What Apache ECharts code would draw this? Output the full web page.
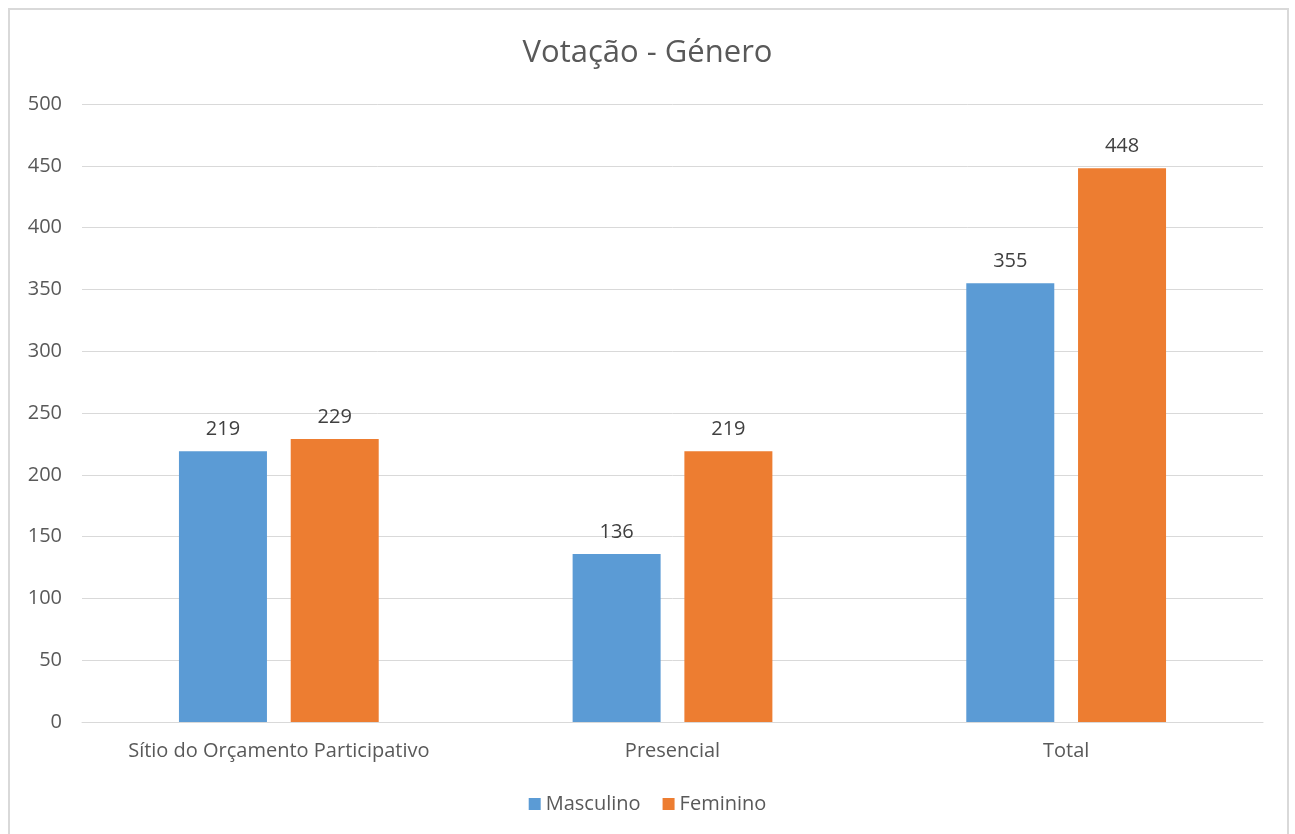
<!DOCTYPE html>
<html><head><meta charset="utf-8">
<script src="https://cdn.jsdelivr.net/npm/echarts@6/dist/echarts.min.js"></script>
<style>html,body{margin:0;padding:0;background:#fff}#c{width:1295px;height:834px}</style>
</head><body><div id="c"></div>
<script>
const categories = ['Sítio do Orçamento Participativo', 'Presencial', 'Total'];
const masculino = [219, 136, 355];
const feminino = [229, 219, 448];
const seriesNames = ['Masculino', 'Feminino'];
const FONT = '"Open Sans", "Liberation Sans", sans-serif';
const chart = echarts.init(document.getElementById('c'), null, {renderer: 'canvas'});
chart.setOption({
  animation: false,
  backgroundColor: '#fff',
  textStyle: {fontFamily: FONT},
  graphic: [{type: 'rect', shape: {x: 9, y: 9, width: 1279, height: 830}, style: {fill: 'none', stroke: '#d9d9d9', lineWidth: 2}, silent: true}],
  title: {text: 'Votação - Género', left: 'center', top: 33, textStyle: {fontFamily: FONT, fontSize: 31, fontWeight: 'normal', color: '#595959'}},
  legend: {data: seriesNames, bottom: 15, left: 'center', itemWidth: 12, itemHeight: 12, itemGap: 22, icon: 'rect',
    textStyle: {fontFamily: FONT, fontSize: 20, color: '#595959'}},
  grid: {left: 82, right: 32, top: 104, bottom: 112, containLabel: false},
  xAxis: {type: 'category', data: categories, axisTick: {show: false},
    axisLine: {lineStyle: {color: '#d9d9d9'}},
    axisLabel: {fontFamily: FONT, fontSize: 20, color: '#595959', margin: 19}},
  yAxis: {type: 'value', min: 0, max: 500, interval: 50, axisLine: {show: false}, axisTick: {show: false},
    splitLine: {lineStyle: {color: '#d9d9d9'}},
    axisLabel: {fontFamily: FONT, fontSize: 20, color: '#595959', margin: 20}},
  series: [
    {name: seriesNames[0], type: 'bar', data: masculino, barWidth: 88, barGap: '27%', itemStyle: {color: '#5b9bd5'},
      label: {show: true, position: 'top', distance: 12, fontFamily: FONT, fontSize: 20, color: '#404040'}},
    {name: seriesNames[1], type: 'bar', data: feminino, barWidth: 88, itemStyle: {color: '#ed7d31'},
      label: {show: true, position: 'top', distance: 12, fontFamily: FONT, fontSize: 20, color: '#404040'}}
  ]
});
</script></body></html>
